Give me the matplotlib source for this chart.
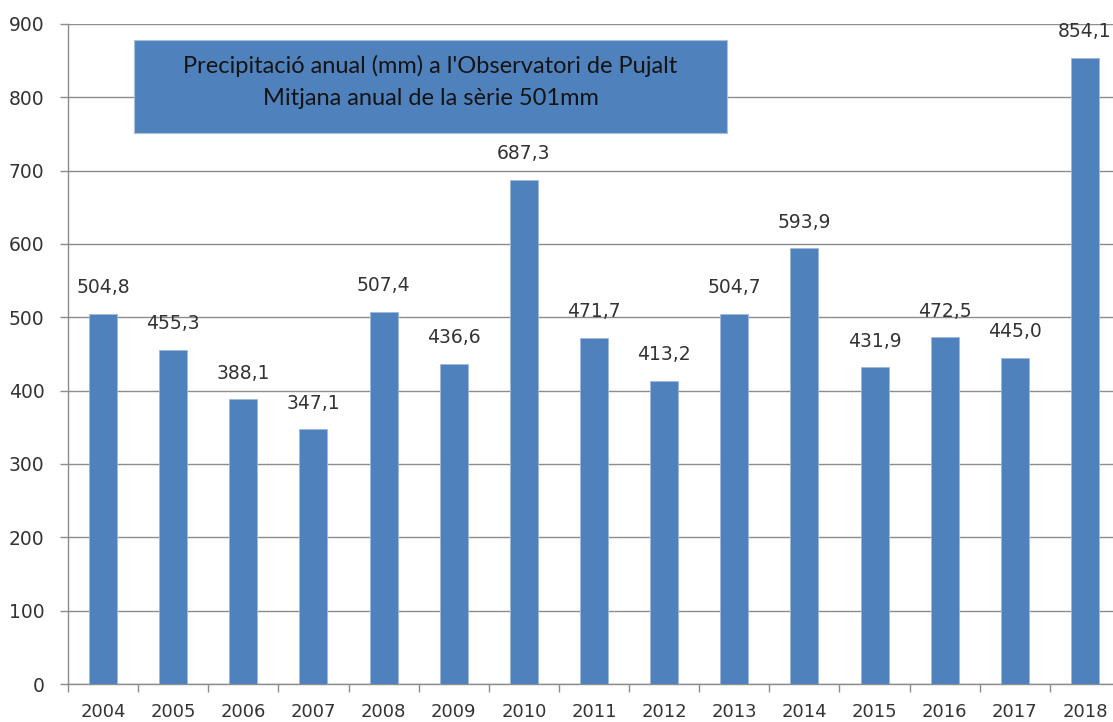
import numpy as np
import matplotlib.pyplot as plt

# dades
years = ['2004', '2005', '2006', '2007', '2008', '2009', '2010', '2011',
         '2012', '2013', '2014', '2015', '2016', '2017', '2018']
precip = [504.8, 455.3, 388.1, 347.1, 507.4, 436.6, 687.3, 471.7,
          413.2, 504.7, 593.9, 431.9, 472.5, 445.0, 854.1]
title_lines = ["Precipitació anual (mm) a l'Observatori de Pujalt",
               "Mitjana anual de la sèrie 501mm"]

BLUE = '#4F81BD'
GRID = '#8c8c8c'
TXT = '#333333'

fig = plt.figure(figsize=(11.13, 7.22), dpi=100)
ax = fig.add_axes([68 / 1113, 38 / 722, 1052 / 1113, 660 / 722])

x = np.arange(len(years))
ax.bar(x, precip, width=0.4, color=BLUE, edgecolor='#9db8dc', linewidth=0.6, zorder=3)

for xi, v in zip(x, precip):
    ax.annotate(f'{v:.1f}'.replace('.', ','), (xi, v), xytext=(0, 12),
                textcoords='offset points', ha='center', va='bottom',
                fontsize=13.5, color=TXT, family='DejaVu Sans')

ax.set_xlim(-0.5, len(years) - 0.5)
ax.set_ylim(0, 900)
ax.set_yticks(np.arange(0, 901, 100))
ax.yaxis.grid(True, color=GRID, linewidth=1.0, zorder=0)

# etiquetes al centre, marques entre categories
ax.set_xticks(x)
ax.set_xticklabels(years)
ax.set_xticks(np.arange(-0.5, len(years) + 0.5, 1), minor=True)
ax.tick_params(axis='x', which='major', length=0, pad=14, labelsize=13, labelcolor=TXT)
ax.tick_params(axis='x', which='minor', length=6, width=1, color=GRID, direction='out')
ax.tick_params(axis='y', length=6, width=1, color=GRID, pad=11, labelsize=13.5, labelcolor=TXT)

for s in ['top', 'right']:
    ax.spines[s].set_visible(False)
for s in ['left', 'bottom']:
    ax.spines[s].set_color(GRID)
    ax.spines[s].set_linewidth(1.0)

# caixa del títol
box = fig.add_axes([134 / 1113, 1 - 133 / 722, 593 / 1113, 93 / 722])
box.set_facecolor(BLUE)
box.set_xticks([])
box.set_yticks([])
for s in box.spines.values():
    s.set_color('#a9c1e0')
    s.set_linewidth(0.8)
box.text(0.5, 0.72, title_lines[0], ha='center', va='center', fontsize=17,
         color='#141414', family='Lato', transform=box.transAxes)
box.text(0.5, 0.37, title_lines[1], ha='center', va='center', fontsize=17,
         color='#141414', family='Lato', transform=box.transAxes)

fig.savefig('out.png', dpi=100)
